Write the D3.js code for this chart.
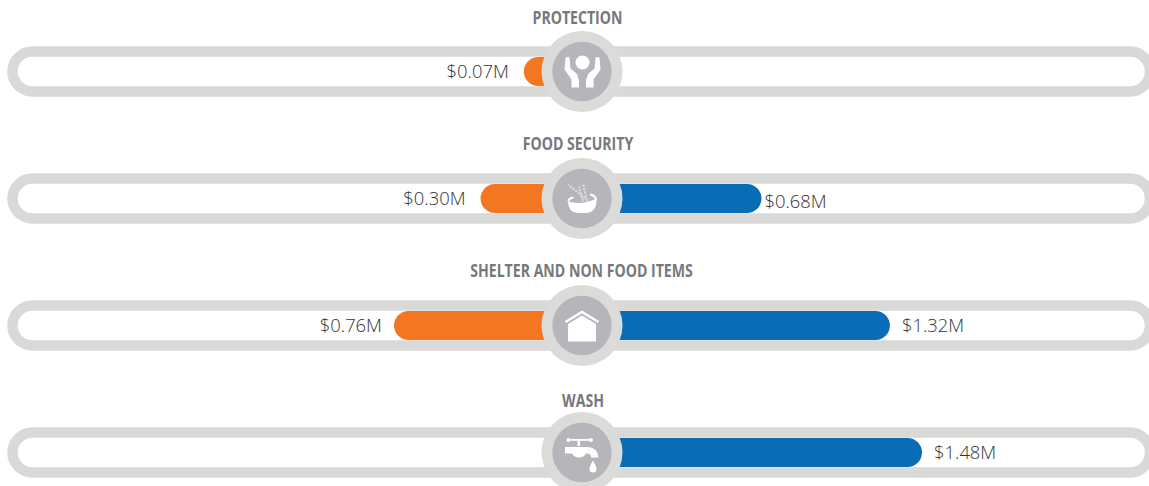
<!DOCTYPE html>
<html>
<head>
<meta charset="utf-8">
<script src="https://cdn.jsdelivr.net/npm/d3@7"></script>
<style>
    html, body { margin: 0; padding: 0; background: #fff; overflow: hidden; }
    svg { display: block; }
    .title { font-family: "Open Sans", sans-serif; font-weight: 700; font-size: 17px; fill: #77787b; text-anchor: middle; }
    .value { font-family: "Open Sans", sans-serif; font-weight: 300; font-size: 18.4px; fill: #333335; }
</style>
</head>
<body>
<svg id="drawing_region"></svg>
<script>
const categories = ["PROTECTION", "FOOD SECURITY", "SHELTER AND NON FOOD ITEMS", "WASH"];
const orangeValues = [0.07, 0.30, 0.76, null];
const blueValues = [null, 0.68, 1.32, 1.48];
const icons = ["hands", "bowl", "house", "tap"];

const width = 1149, height = 486;
const center_x = 582;
const bar_height = 29;

// label nudges, same order as categories
const title_nudge = [[-4.5, -48], [-4, -49], [-0.5, -49], [1, -46]];
const orange_gap = [15, 15, 12, 0];
const blue_gap = [0, 3, 12, 12];
const blue_dy = [0, 3, 0, 0];

const svg = d3.select("#drawing_region").attr("width", width).attr("height", height);

const yscale = d3.scalePoint().domain(categories).range([71.5, 452.5]);
const xleft = d3.scaleLinear().domain([0, 0.76]).range([537, 394]);
const xright = d3.scaleLinear().domain([0, 1.48]).range([625, 922]);
const money = v => "$" + d3.format(".2f")(v) + "M";

const rows = svg.selectAll("g.row")
    .data(categories)
    .join("g")
    .attr("class", "row")
    .attr("transform", d => `translate(0, ${yscale(d)})`);

// grey pill behind the bars, runs off the right edge of the page
rows.append("rect")
    .attr("x", 12.5)
    .attr("y", -20)
    .attr("width", 1137.5)
    .attr("height", 40)
    .attr("rx", 20)
    .attr("fill", "#fff")
    .attr("stroke", "#d9d9d7")
    .attr("stroke-width", 10.5);

rows.filter((d, i) => orangeValues[i] !== null)
    .append("rect")
    .attr("x", d => xleft(orangeValues[categories.indexOf(d)]))
    .attr("y", -bar_height / 2)
    .attr("width", d => center_x - xleft(orangeValues[categories.indexOf(d)]))
    .attr("height", bar_height)
    .attr("rx", bar_height / 2)
    .attr("fill", "#f37721");

rows.filter((d, i) => blueValues[i] !== null)
    .append("rect")
    .attr("x", center_x)
    .attr("y", -bar_height / 2)
    .attr("width", d => xright(blueValues[categories.indexOf(d)]) - center_x)
    .attr("height", bar_height)
    .attr("rx", bar_height / 2)
    .attr("fill", "#0b6cb6");

rows.filter((d, i) => orangeValues[i] !== null)
    .append("text")
    .attr("class", "value")
    .attr("text-anchor", "end")
    .attr("x", (d) => { const i = categories.indexOf(d); return xleft(orangeValues[i]) - orange_gap[i]; })
    .attr("y", 6)
    .text(d => money(orangeValues[categories.indexOf(d)]));

rows.filter((d, i) => blueValues[i] !== null)
    .append("text")
    .attr("class", "value")
    .attr("x", (d) => { const i = categories.indexOf(d); return xright(blueValues[i]) + blue_gap[i]; })
    .attr("y", (d) => 6 + blue_dy[categories.indexOf(d)])
    .text(d => money(blueValues[categories.indexOf(d)]));

// no condensed face installed, so squeeze Open Sans to the same width
rows.append("text")
    .attr("class", "title")
    .attr("transform", (d) => {
        const n = title_nudge[categories.indexOf(d)];
        return `translate(${center_x + n[0]}, ${n[1]}) scale(0.83, 1)`;
    })
    .text(d => d);

rows.append("circle").attr("cx", center_x).attr("r", 40.5).attr("fill", "#dbdbd9");
rows.append("circle").attr("cx", center_x).attr("r", 29.7).attr("fill", "#b5b6b9");

const icon_group = rows.append("g")
    .attr("transform", `translate(${center_x}, 0)`)
    .attr("fill", "#fff");

const draw_icon = {
    hands(g) {
        g.append("circle").attr("cx", 0.5).attr("cy", -9).attr("r", 7);
        const hand = "M-16.5,-14 L-12.7,-14.7 L-11.5,-3 L-5,2.5 L-3,9 L-3,16 L-10.5,16 L-10.5,8 L-17.5,-2 Z";
        g.append("path").attr("d", hand);
        g.append("path").attr("d", hand).attr("transform", "translate(1,0) scale(-1,1)");
    },
    bowl(g) {
        g.append("path").attr("d", "M-14,3 Q0,7 14.5,0 Q15,14 4,14.5 L-4,14.5 Q-14,14 -14,3 Z");
        g.append("path").attr("d", "M-14.5,3 Q-14.5,-1 -9,-2 L-8,0 Q-12,0 -12.5,3 Z");
        g.append("path").attr("d", "M15,2 Q15,-4 8,-5 L8,-3 Q12.5,-2 13,1 Z");
        const stalks = [[5, 2, 1, -15], [1, 3, -3, -12], [6, 2, -14, -14]];
        stalks.forEach(s => {
            g.append("line")
                .attr("x1", s[0]).attr("y1", s[1]).attr("x2", s[2]).attr("y2", s[3])
                .attr("stroke", "#d8d8da").attr("stroke-width", 2.2).attr("stroke-dasharray", "2.5 1");
        });
    },
    house(g) {
        g.append("path").attr("d", "M-16.5,-3.5 L0,-13.5 L16.5,-3.5")
            .attr("fill", "none").attr("stroke", "#fff").attr("stroke-width", 2.6);
        g.append("path").attr("d", "M-14,-1.5 L0,-10 L14,-1.5 L14,16 L-14,16 Z");
    },
    tap(g) {
        g.append("rect").attr("x", -13).attr("y", -13.5).attr("width", 22).attr("height", 1.8);
        g.append("circle").attr("cx", -13.5).attr("cy", -12.6).attr("r", 2);
        g.append("circle").attr("cx", 9).attr("cy", -12.6).attr("r", 2);
        g.append("rect").attr("x", -4.5).attr("y", -12.5).attr("width", 2.6).attr("height", 6);
        g.append("path").attr("d", "M-17,-5.5 L5,-5.5 Q16,-5 16.5,5 L9,5 Q9,1 5,1 L4,1 Q2,5 -3,5 Q-8,5 -10,1 L-17,1 Z");
        g.append("path").attr("d", "M11,8 Q14.5,14 14.5,16.5 A3.5,3.5 0 0 1 7.5,16.5 Q7.5,14 11,8 Z");
    }
};

icon_group.each(function (d) {
    draw_icon[icons[categories.indexOf(d)]](d3.select(this));
});
</script>
</body>
</html>
